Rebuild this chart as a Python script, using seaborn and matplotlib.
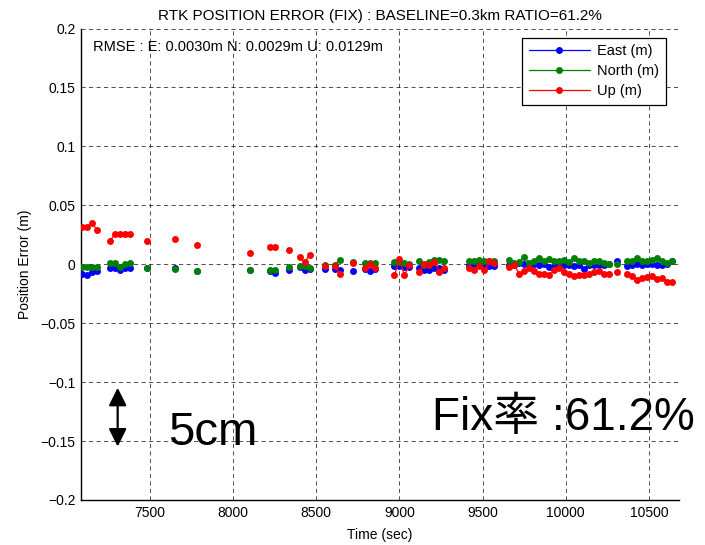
import numpy as np
import pandas as pd
import matplotlib
matplotlib.use("Agg")
import matplotlib.pyplot as plt
import seaborn as sns
from matplotlib.lines import Line2D

# ---------------- data ----------------
time_s = [7090, 7120, 7150, 7180, 7260, 7290, 7320, 7350, 7380, 7480,
          7650, 7780, 8100, 8220, 8250, 8335, 8400, 8430, 8460, 8550,
          8610, 8640, 8720, 8790, 8820, 8850, 8970, 9000, 9030, 9060,
          9120, 9150, 9180, 9210, 9240, 9270, 9420, 9450, 9480, 9510,
          9540, 9570,
          9660, 9690, 9720, 9750, 9780, 9810, 9840, 9870, 9900, 9930,
          9960, 9990, 10020, 10050, 10080, 10110, 10140, 10170, 10200, 10230,
          10260, 10310, 10370, 10400, 10430, 10460, 10490, 10520, 10550, 10580,
          10610, 10640]

east_m = [-0.0082, -0.0090, -0.0068, -0.0059, -0.0031, -0.0031, -0.0050, -0.0036, -0.0031, -0.0030,
          -0.0030, -0.0058, -0.0050, -0.0060, -0.0073, -0.0045, -0.0023, -0.0045, -0.0040, -0.0037,
          -0.0037, -0.0053, -0.0060, -0.0037, -0.0060, -0.0037, -0.0011, -0.0011, -0.0025, -0.0020,
          -0.0030, -0.0045, -0.0045, -0.0030, -0.0030, -0.0045, -0.0003, -0.0008, -0.0003, 0.0006,
          -0.0011, -0.0011,
          -0.0003, -0.0003, 0.0011, 0.0003, -0.0003, 0.0003, -0.0003, 0.0003, -0.0025, -0.0011,
          -0.0011, -0.0008, -0.0003, -0.0017, -0.0003, -0.0037, -0.0003, -0.0003, -0.0003, -0.0008,
          0.0003, 0.0025, -0.0017, -0.0003, 0.0003, -0.0003, 0.0003, 0.0003, -0.0003, -0.0003,
          0.0003, 0.0031]

north_m = [-0.0023, -0.0023, -0.0020, -0.0020, 0.0011, 0.0011, -0.0023, 0.0006, 0.0011, -0.0036,
           -0.0040, -0.0060, -0.0048, -0.0045, -0.0045, -0.0023, -0.0011, -0.0011, -0.0031, -0.0005,
           -0.0005, 0.0034, 0.0015, 0.0011, 0.0011, 0.0011, 0.0020, 0.0020, 0.0011, 0.0005,
           0.0025, -0.0008, 0.0017, 0.0034, 0.0040, 0.0025, 0.0025, 0.0025, 0.0034, 0.0025,
           0.0025, 0.0025,
           0.0040, 0.0011, 0.0020, 0.0062, 0.0011, 0.0025, 0.0054, 0.0025, 0.0048, 0.0025,
           0.0031, 0.0040, 0.0020, 0.0054, 0.0025, 0.0025, 0.0011, 0.0025, 0.0025, 0.0011,
           0.0003, 0.0003, 0.0025, 0.0031, 0.0054, 0.0031, 0.0031, 0.0040, 0.0054, 0.0025,
           0.0011, 0.0031]

up_m = [0.0316, 0.0316, 0.0353, 0.0294, 0.0200, 0.0257, 0.0257, 0.0257, 0.0257, 0.0200,
        0.0214, 0.0167, 0.0096, 0.0144, 0.0144, 0.0119, 0.0060, 0.0015, 0.0082, -0.0011,
        -0.0011, -0.0079, 0.0011, -0.0030, 0.0003, -0.0030, -0.0093, 0.0045, -0.0093, -0.0008,
        -0.0068, 0.0003, -0.0003, 0.0020, -0.0068, -0.0030, -0.0030, -0.0045, -0.0017, -0.0050,
        0.0025, 0.0011,
        -0.0025, -0.0008, -0.0079, -0.0059, -0.0031, -0.0059, -0.0079, -0.0079, -0.0093, -0.0051,
        -0.0031, -0.0065, -0.0079, -0.0100, -0.0093, -0.0095, -0.0085, -0.0065, -0.0059, -0.0083,
        -0.0080, -0.0068, -0.0079, -0.0102, -0.0137, -0.0113, -0.0110, -0.0100, -0.0121, -0.0116,
        -0.0148, -0.0153]

series_names = ["East (m)", "North (m)", "Up (m)"]
series_colors = ["#0000ff", "#008000", "#ff0000"]

x_ticks = [7500, 8000, 8500, 9000, 9500, 10000, 10500]
y_ticks = [-0.2, -0.15, -0.1, -0.05, 0, 0.05, 0.1, 0.15, 0.2]
y_tick_labels = ["\u22120.2", "\u22120.15", "\u22120.1", "\u22120.05", "0",
                 "0.05", "0.1", "0.15", "0.2"]

title_text = "RTK POSITION ERROR (FIX) : BASELINE=0.3km RATIO=61.2%"
rmse_text = "RMSE : E: 0.0030m N: 0.0029m U: 0.0129m"

# ---------------- figure ----------------
sns.set_style("white")
plt.rcParams["font.family"] = ["Liberation Sans", "Noto Sans CJK JP", "DejaVu Sans"]
plt.rcParams["text.color"] = "black"
plt.rcParams["axes.labelcolor"] = "black"
plt.rcParams["xtick.color"] = "black"
plt.rcParams["ytick.color"] = "black"

t = np.array(time_s)
seg = np.concatenate([[0], np.cumsum(np.diff(t) > 45)])
frames = []
for name, vals in zip(series_names, [east_m, north_m, up_m]):
    frames.append(pd.DataFrame({"time": t, "value": vals, "comp": name, "seg": seg}))
df = pd.concat(frames, ignore_index=True)

fig = plt.figure(figsize=(7.05, 5.45), dpi=100)
ax = fig.add_axes([0.115, 0.0826, 0.848, 0.8651])

sns.lineplot(data=df, x="time", y="value", hue="comp", units="seg",
             estimator=None, sort=False,
             palette=dict(zip(series_names, series_colors)),
             hue_order=series_names,
             marker="o", markersize=5, markeredgewidth=0, linewidth=0.9,
             legend=False, ax=ax, zorder=3)

ax.set_xlim(7086, 10680)
ax.set_ylim(-0.2, 0.2)
ax.set_xticks(x_ticks)
ax.set_xticklabels([str(v) for v in x_ticks])
ax.set_yticks(y_ticks)
ax.set_yticklabels(y_tick_labels)
ax.tick_params(axis="both", direction="in", length=4, width=0.8,
               labelsize=10, colors="black", labelcolor="black", pad=4)

ax.grid(True, linestyle=(0, (5, 4)), color="black", linewidth=0.6, alpha=0.8)
ax.set_axisbelow(True)
for side in ["top", "right"]:
    ax.spines[side].set_visible(False)
for side in ["left", "bottom"]:
    ax.spines[side].set_color("black")
    ax.spines[side].set_linewidth(1.0)

ax.set_xlabel("Time (sec)", fontsize=10, labelpad=6, color="black")
ax.set_ylabel("Position Error (m)", fontsize=10, labelpad=6, color="black")
ax.set_title(title_text, fontsize=11, pad=6, color="black")

ax.text(0.02, 0.961, rmse_text, transform=ax.transAxes, fontsize=10.5,
        va="center", ha="left", color="black")

handles = [Line2D([0], [0], color=c, marker="o", markersize=5,
                  markeredgewidth=0, linewidth=0.9) for c in series_colors]
leg = ax.legend(handles, series_names, loc="upper right",
                bbox_to_anchor=(0.978, 0.98), borderaxespad=0,
                fontsize=10.5, handlelength=4.2,
                frameon=True, fancybox=False, framealpha=1, edgecolor="black",
                borderpad=0.45, labelspacing=0.4, handletextpad=0.5)
leg.get_frame().set_linewidth(0.9)
for txt in leg.get_texts():
    txt.set_color("black")

# 5 cm scale arrow and annotations
ax.annotate("", xy=(7306, -0.1547), xytext=(7306, -0.1048),
            arrowprops=dict(arrowstyle="<|-|>", color="black", lw=1.6,
                            mutation_scale=27, shrinkA=0, shrinkB=0))
fig.text(168 / 705, 1 - 445 / 545, "5cm", fontsize=34, ha="left",
         va="baseline", color="black")
fig.text(432 / 705, 1 - 430 / 545, "Fix率 :61.2%", fontsize=33,
         ha="left", va="baseline", color="black")

fig.savefig("out.png", dpi=100)
